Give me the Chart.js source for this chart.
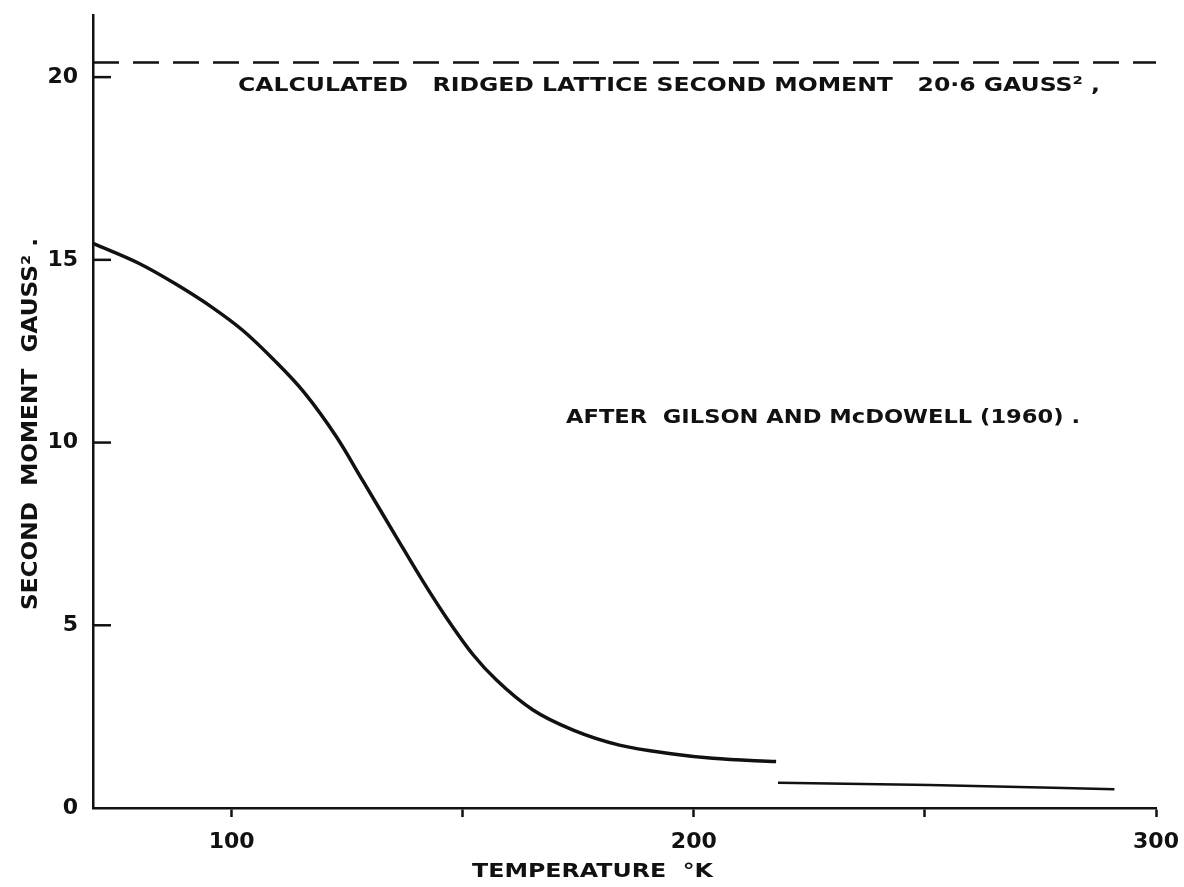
<!DOCTYPE html>
<html>
<head>
<meta charset="utf-8">
<script src="https://cdn.jsdelivr.net/npm/chart.js@4.4.0/dist/chart.umd.min.js"></script>
<style>
html,body{margin:0;padding:0;background:#fff;}
#wrap{width:1184px;height:887px;}
</style>
</head>
<body>
<div id="wrap"><canvas id="c" width="1184" height="887"></canvas></div>
<script>
// ---- data ----
const temperatureLow = [70, 80, 88, 96, 102.5, 109, 115.5, 122.7, 128.4, 135.7, 141.4, 146.5, 152.2, 157.3, 165.2, 173.9, 183.9, 195.5, 204.1, 217.8];
const secondMomentLow = [15.45, 14.9, 14.33, 13.68, 13.06, 12.28, 11.4, 10.15, 8.95, 7.4, 6.2, 5.2, 4.2, 3.5, 2.68, 2.13, 1.72, 1.48, 1.36, 1.27];
const temperatureHigh = [218.2, 251, 291];
const secondMomentHigh = [0.69, 0.63, 0.51];
const rigidLatticeTemps = [70, 300];
const rigidLatticeValues = [20.4, 20.4];

const xTickValues = [100, 150, 200, 250, 300];
const xTickLabels = ['100', '', '200', '', '300'];
const yTickValues = [0, 5, 10, 15, 20];
const yTickLabels = ['0', '5', '10', '15', '20'];

const xTitle = 'TEMPERATURE  °K';
const yTitle = 'SECOND  MOMENT  GAUSS² .';
const noteRigid = 'CALCULATED   RIDGED LATTICE SECOND MOMENT   20·6 GAUSS² ,';
const noteSource = 'AFTER  GILSON AND McDOWELL (1960) .';

// ---- build ----
const toPoints = (xs, ys) => xs.map((x, i) => ({x: x, y: ys[i]}));
const FONT = '"DejaVu Sans", "Liberation Sans", sans-serif';
const INK = '#111';

const textPlugin = {
  id: 'texts',
  afterDraw(chart) {
    const ctx = chart.ctx;
    const ca = chart.chartArea;
    const ys = chart.scales.y;
    // inward y tick marks
    ctx.save();
    ctx.strokeStyle = INK;
    ctx.lineWidth = 2.5;
    yTickValues.forEach(v => {
      if (v === 0) return;
      const py = ys.getPixelForValue(v);
      ctx.beginPath();
      ctx.moveTo(ca.left, py);
      ctx.lineTo(ca.left + 18, py);
      ctx.stroke();
    });
    ctx.restore();

    function fitText(str, x0, x1, yc, size, rotate) {
      ctx.save();
      ctx.fillStyle = INK;
      ctx.font = 'bold ' + size + 'px ' + FONT;
      ctx.textBaseline = 'middle';
      ctx.textAlign = 'left';
      const w = ctx.measureText(str).width;
      const target = Math.abs(x1 - x0);
      if (rotate) {
        ctx.translate(yc, x0);
        ctx.rotate(-Math.PI / 2);
        ctx.scale(target / w, 1);
        ctx.fillText(str, 0, 0);
      } else {
        ctx.translate(x0, yc);
        ctx.scale(target / w, 1);
        ctx.fillText(str, 0, 0);
      }
      ctx.restore();
    }
    fitText(noteRigid, 238, 1100, 86, 20, false);
    fitText(noteSource, 566, 1080, 418, 20, false);
    fitText(xTitle, 472, 713, 872, 20, false);
    fitText(yTitle, 610, 238, 32, 21, true);
  }
};

new Chart(document.getElementById('c'), {
  type: 'line',
  data: {
    datasets: [
      {
        data: toPoints(temperatureLow, secondMomentLow),
        borderColor: INK, borderWidth: 3.5, pointRadius: 0,
        cubicInterpolationMode: 'monotone', fill: false
      },
      {
        data: toPoints(temperatureHigh, secondMomentHigh),
        borderColor: INK, borderWidth: 2.5, pointRadius: 0,
        cubicInterpolationMode: 'monotone', fill: false
      },
      {
        data: toPoints(rigidLatticeTemps, rigidLatticeValues),
        borderColor: INK, borderWidth: 2.5, pointRadius: 0,
        borderDash: [26, 14], fill: false
      }
    ]
  },
  options: {
    responsive: false,
    animation: false,
    devicePixelRatio: 1,
    layout: {padding: {top: 15, right: 28, left: 0, bottom: 0}},
    plugins: {legend: {display: false}, tooltip: {enabled: false}},
    scales: {
      x: {
        type: 'linear', min: 70, max: 300,
        afterBuildTicks: s => { s.ticks = xTickValues.map(v => ({value: v})); },
        afterFit: s => { s.height = 79; s.paddingLeft = 0; s.paddingRight = 0; },
        ticks: {
          callback: (v, i) => xTickLabels[i],
          color: INK, font: {family: FONT, size: 22, weight: 'bold'}, padding: 12,
          maxRotation: 0, autoSkip: false
        },
        grid: {drawOnChartArea: false, drawTicks: true, tickLength: 9, tickColor: INK, tickWidth: 2.5},
        border: {display: true, color: INK, width: 2.5}
      },
      y: {
        type: 'linear', min: 0, max: 21.7,
        afterBuildTicks: s => { s.ticks = yTickValues.map(v => ({value: v})); },
        afterFit: s => { s.width = 93; s.paddingTop = 0; s.paddingBottom = 0; },
        ticks: {
          callback: (v, i) => yTickLabels[i],
          color: INK, font: {family: FONT, size: 22, weight: 'bold'}, padding: 15
        },
        grid: {drawOnChartArea: false, drawTicks: false},
        border: {display: true, color: INK, width: 2.5}
      }
    }
  },
  plugins: [textPlugin]
});
</script>
</body>
</html>
